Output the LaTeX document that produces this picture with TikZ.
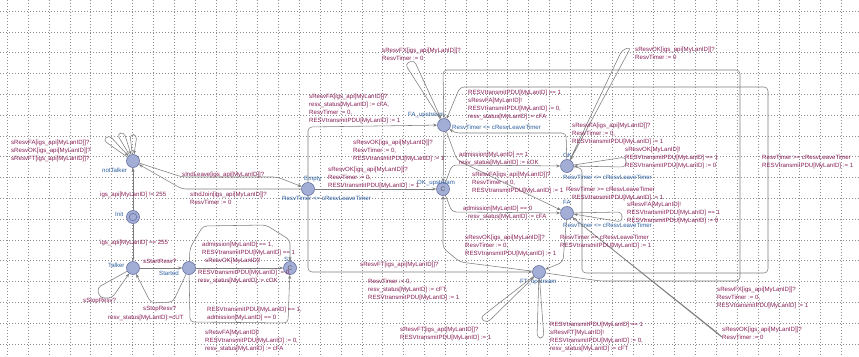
\documentclass[tikz,border=0pt]{standalone}
\usepackage{fontspec}
\setmainfont{Liberation Sans}
\usetikzlibrary{arrows.meta}
\definecolor{locfill}{RGB}{163,174,214}
\definecolor{locdraw}{RGB}{105,115,160}
\definecolor{namec}{RGB}{45,95,160}
\definecolor{labc}{RGB}{135,30,85}
\definecolor{edgec}{RGB}{125,125,125}
\definecolor{gridc}{RGB}{140,140,140}
\begin{document}
\begin{tikzpicture}[x=1pt,y=-1pt,line join=round,
  loc/.style={circle,draw=locdraw,fill=locfill,line width=0.6pt,minimum size=13pt,inner sep=0pt},
  comm/.style={loc,font=\fontsize{6.5}{6.5}\selectfont,text=black!65},
  nm/.style={anchor=west,inner sep=0pt,text=namec,font=\fontsize{6.1}{7.9}\selectfont},
  lab/.style={anchor=north west,yshift=2.8pt,inner sep=0pt,text=labc,align=left,font=\fontsize{6.1}{7.9}\selectfont},
  conn/.style={draw=edgec,line width=0.55pt,rounded corners=4pt,-{Stealth[length=4pt,width=3pt]}},
  gridl/.style={draw=gridc,line width=0.5pt,dash pattern=on 0.6pt off 2.4pt}]
\fill[white] (0,0) rectangle (859,356);
\useasboundingbox (0,0) rectangle (859,356);
% grid
\foreach \i in {0,...,40} \draw[gridl] (7.3+\i*20.85,0) -- ++(0,356);
\foreach \j in {0,...,16} \draw[gridl] (0,11+\j*20.8) -- ++(859,0);

% locations
\node[loc] (notTalker) at (133,161) {};
\node[loc] (Init) at (133,217) {};
\draw[locdraw,line width=0.6pt] (Init.center) circle (3.8pt);
\node[loc] (Talker) at (133,268) {};
\node[loc] (Started) at (189,268) {};
\node[comm] (S1) at (290,268) {C};
\node[loc] (Empty) at (308,189) {};
\node[loc] (FAu) at (444,125) {};
\node[comm] (OKu) at (443,189) {C};
\node[loc] (OK) at (567,166) {};
\node[loc] (FA) at (567,213) {};
\node[loc] (FTu) at (539,272) {};

% location names and invariants
\node[nm] (nnot) at (102,170) {notTalker};
\node[nm] (ninit) at (115,214) {Init};
\node[nm] (ntalk) at (108,265) {Talker};
\node[nm] (nstart) at (159,273) {Started};
\node[nm] (ns1) at (284,259) {S1};
\node[nm] (nempty) at (304,179) {Empty};
\node[nm] (iempty) at (282,198) {ResvTimer <= cResvLeaveTimer};
\node[nm] (nfau) at (408,115) {FA\_upstream};
\node[nm] (ifau) at (452,127) {ResvTimer <= cResvLeaveTimer};
\node[nm] (noku) at (417,183) {OK\_upstream};
\node[nm] (nok) at (563,155) {OK};
\node[nm] (iok) at (563,177) {ResvTimer <= cResvLeaveTimer};
\node[nm] (nfa) at (563,202) {FA};
\node[nm] (ifa) at (563,225) {ResvTimer <= cResvLeaveTimer};
\node[nm] (nftu) at (520,282) {FT\_upstream};

% edges: left part
\draw[conn] (notTalker) -- (103,140) -- (109,135) -- (notTalker);
\draw[conn] (notTalker) -- (117,134) -- (124,132) -- (notTalker);
\draw[conn] (notTalker) -- (130,134) -- (137,135) -- (notTalker);
\draw[conn] (notTalker) -- (182,177) -- (277,177) -- (Empty);
\draw[conn] (Empty) -- (182,189) -- (notTalker);
\draw[conn] (Init) -- (notTalker);
\draw[conn] (Init) -- (Talker);
\draw[conn] (Talker) -- (Started);
\draw[conn] (Talker) -- (97,288) -- (100,298) -- (112,298) -- (Talker);
\draw[conn] (Started) -- (173,302) -- (151,303) -- (Talker);
\draw[conn] (Started) -- (190,248) -- (203,226) -- (266,225) -- (290,240) -- (S1);
\draw[conn] (Started) -- (S1);
\draw[conn] (Started) -- (190,322) -- (288,323) -- (S1);

% edges: Empty
\draw[conn] (Empty) -- (308,127) -- (FAu);
\draw[conn] (Empty) -- (308,272) -- (FTu);
\draw[conn] (Empty) -- (OKu);

% edges: upstream and states
\draw[conn] (FAu) -- (405,64) -- (414,60) -- (FAu);
\draw[conn] (FAu) -- (OKu);
\draw[conn] (FAu) -- (457,160) -- (FA);
\draw[conn] (OKu) -- (452,165) -- (OK);
\draw[conn] (OKu) -- (452,212) -- (FA);
\draw[conn] (FTu) -- (460,262) -- (443,248) -- (OKu);
\draw[conn] (OK) -- (566,133) -- (455,133) -- (FAu);
\draw[conn] (FTu) -- (600,281) -- (740,281) -- (740,70) -- (443,70) -- (FAu);
\draw[conn] (OK) -- (582,168) -- (582,273) -- (768,273) -- (768,87) -- (460,87) -- (FAu);
\draw[conn] (FA) -- (563,262) -- (FTu);
\draw[conn] (OK) -- (622,50) -- (631,47) -- (OK);
\draw[conn] (OK) -- (626,157) -- (626,167) -- (OK);
\draw[conn] (FA) -- (622,212) -- (622,222) -- (FA);
\draw[conn] (FA) -- (719,334) -- (724,339) -- (FA);
\draw[conn] (FTu) -- (480,318) -- (487,323) -- (FTu);
\draw[conn] (FTu) -- (537,338) -- (544,338) -- (FTu);

% edge labels
\node[lab] (g1) at (11,143) {sResvFA[igs\_api[MyLanID]]?\\sResvOK[igs\_api[MyLanID]]?\\sResvFT[igs\_api[MyLanID]]?};
\node[lab] (g2) at (182,175) {sIndLeave[igs\_api[MyLanID]]?};
\node[lab] (g3) at (190,195) {sIndJoin[igs\_api[MyLanID]]?\\ResvTimer := 0};
\node[lab] (g4) at (100,195) {igs\_api[MyLanID] != 255};
\node[lab] (g5) at (100,243) {igs\_api[MyLanID] == 255};
\node[lab] (g6) at (143,262) {sStartResv?};
\node[lab] (g7) at (83,301) {sStopResv?};
\node[lab] (g8a) at (143,309) {sStopResv?};
\node[lab] (g8b) at (108,318) {resv\_status[MyLanID]:=cUT};
\node[lab] (g9) at (202,245) {admission[MyLanID] == 1,\\RESVtransmitPDU[MyLanID] == 1\\\hspace*{3pt}sResvOK[MyLanID]!};
\node[lab] (g10) at (198,273) {RESVtransmitPDU[MyLanID] := 0,\\resv\_status[MyLanID] := cOK};
\node[lab] (g11) at (207,310) {RESVtransmitPDU[MyLanID] == 1,\\admission[MyLanID] == 0};
\node[lab] (g12) at (205,333) {sResvFA[MyLanID]!\\RESVtransmitPDU[MyLanID] := 0,\\resv\_status[MyLanID] := cFA};
\node[lab] (g13) at (309,97) {sResvFA[igs\_api[MyLanID]]?\\resv\_status[MyLanID] := cFA,\\ResvTimer := 0,\\RESVtransmitPDU[MyLanID] := 1};
\node[lab] (g14) at (353,143) {sResvOK[igs\_api[MyLanID]]?\\ResvTimer := 0,\\RESVtransmitPDU[MyLanID] := 1};
\node[lab] (g15) at (328,170) {sResvOK[igs\_api[MyLanID]]?\\ResvTimer := 0,\\RESVtransmitPDU[MyLanID] := 1};
\node[lab] (g16) at (382,51) {sResvFX[igs\_api[MyLanID]]?\\ResvTimer := 0};
\node[lab] (g17) at (468,93) {RESVtransmitPDU[MyLanID] == 1\\sResvFA[MyLanID]!\\RESVtransmitPDU[MyLanID] := 0,\\resv\_status[MyLanID] := cFA};
\node[lab] (g18) at (572,126) {sResvFA[igs\_api[MyLanID]]?\\ResvTimer := 0,\\RESVtransmitPDU[MyLanID] := 1};
\node[lab] (g19) at (459,155) {admission[MyLanID] == 1\\resv\_status[MyLanID] := cOK};
\node[lab] (g20) at (625,150) {sResvOK[MyLanID]!\\RESVtransmitPDU[MyLanID] == 1\\RESVtransmitPDU[MyLanID] := 0};
\node[lab] (g21) at (762,158) {ResvTimer >= cResvLeaveTimer\\RESVtransmitPDU[MyLanID] := 1};
\node[lab] (g22) at (635,50) {sResvOK[igs\_api[MyLanID]]?\\ResvTimer := 0};
\node[lab] (g23) at (472,175) {sResvFA[igs\_api[MyLanID]]?\\ResvTimer := 0,\\RESVtransmitPDU[MyLanID] := 1};
\node[lab] (g24) at (566,190) {ResvTimer >= cResvLeaveTimer\\\hspace*{6pt}RESVtransmitPDU[MyLanID] := 1};
\node[lab] (g25) at (463,209) {admission[MyLanID] == 0\\\hspace*{5pt}resv\_status[MyLanID] := cFA};
\node[lab] (g26) at (627,205) {sResvFA[MyLanID]!\\RESVtransmitPDU[MyLanID] == 1\\RESVtransmitPDU[MyLanID] := 0};
\node[lab] (g27) at (465,238) {sResvOK[igs\_api[MyLanID]]?\\ResvTimer := 0,\\RESVtransmitPDU[MyLanID] := 1};
\node[lab] (g28) at (560,238) {ResvTimer >= cResvLeaveTimer\\RESVtransmitPDU[MyLanID] := 1};
\node[lab] (g29) at (360,265) {sResvFT[igs\_api[MyLanID]]?};
\node[lab] (g30) at (368,282) {ResvTimer := 0,\\resv\_status[MyLanID] := cFT,\\RESVtransmitPDU[MyLanID] := 1};
\node[lab] (g31) at (400,330) {sResvFT[igs\_api[MyLanID]]?\\RESVtransmitPDU[MyLanID] := 1};
\node[lab] (g32) at (550,325) {RESVtransmitPDU[MyLanID] == 1\\sResvFT[MyLanID]!\\RESVtransmitPDU[MyLanID] := 0,\\resv\_status[MyLanID] := cFT};
\node[lab] (g33) at (717,290) {sResvFX[igs\_api[MyLanID]]?\\ResvTimer := 0,\\RESVtransmitPDU[MyLanID] := 1};
\node[lab] (g34) at (722,330) {sResvOK[igs\_api[MyLanID]]?\\ResvTimer := 0};
\end{tikzpicture}
\end{document}
